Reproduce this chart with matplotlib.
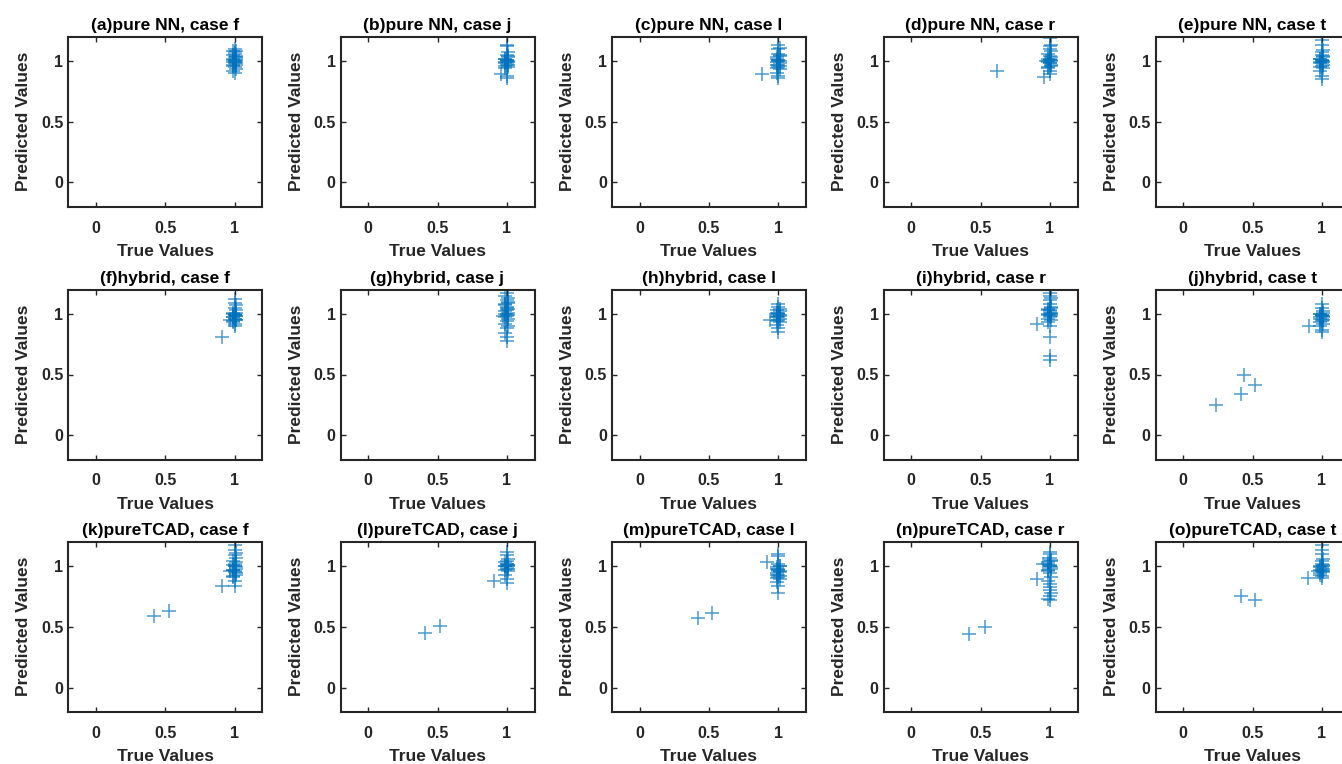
import matplotlib
matplotlib.use("Agg")
import matplotlib.pyplot as plt

#**************** Data ****************

titles = ["(a)pure NN, case f", "(b)pure NN, case j", "(c)pure NN, case l",
          "(d)pure NN, case r", "(e)pure NN, case t",
          "(f)hybrid, case f", "(g)hybrid, case j", "(h)hybrid, case l",
          "(i)hybrid, case r", "(j)hybrid, case t",
          "(k)pureTCAD, case f", "(l)pureTCAD, case j", "(m)pureTCAD, case l",
          "(n)pureTCAD, case r", "(o)pureTCAD, case t"]

a_x = [1.00, 0.99, 1.01, 1.00, 0.99, 1.01, 1.00, 1.00, 0.99, 1.01, 1.00, 1.01, 0.99, 1.00, 1.00, 1.01, 0.99, 1.00,
       0.99, 1.01, 1.00, 0.99, 1.01, 1.00, 0.99, 1.01]
a_y = [0.90, 0.92, 0.93, 0.95, 0.97, 0.98, 0.99, 1.00, 1.01, 1.02, 1.03, 1.04, 1.05, 1.06, 1.07, 1.08, 1.08, 1.10,
       0.96, 0.97, 0.98, 0.99, 1.00, 1.01, 1.02, 1.03]

b_x = [0.96, 1.00, 1.00, 0.99, 1.01, 1.00, 0.99, 1.01, 1.00, 1.00, 0.99, 1.01, 1.00, 1.01, 1.00, 1.00,
       0.99, 1.01, 1.00, 0.99, 1.01, 1.00, 0.99, 1.01]
b_y = [0.89, 0.86, 0.88, 0.94, 0.95, 0.97, 0.98, 0.99, 1.00, 1.01, 1.02, 1.03, 1.05, 1.07, 1.12, 1.13,
       0.96, 0.97, 0.98, 0.99, 1.00, 1.01, 1.02, 1.04]

c_x = [0.88, 1.00, 1.00, 0.99, 1.01, 1.00, 0.99, 1.01, 1.00, 1.00, 0.99, 1.01, 1.00, 1.00, 1.01, 1.00,
       0.99, 1.01, 1.00, 0.99, 1.01, 1.00, 0.99, 1.01]
c_y = [0.89, 0.86, 0.88, 0.90, 0.93, 0.95, 0.97, 0.98, 1.00, 1.01, 1.02, 1.04, 1.06, 1.10, 1.11, 1.13,
       0.94, 0.96, 0.97, 0.99, 1.00, 1.01, 1.03, 1.05]

d_x = [0.62, 0.96, 0.97, 1.00, 1.00, 0.99, 1.01, 1.00, 0.99, 1.01, 1.00, 1.00, 0.99, 1.01, 1.00, 1.00, 1.01, 1.00,
       0.99, 1.01, 1.00, 0.99, 1.01, 1.00, 0.99, 1.01]
d_y = [0.92, 0.87, 1.00, 0.89, 0.92, 0.95, 0.97, 0.98, 1.00, 1.01, 1.02, 1.04, 1.06, 1.08, 1.10, 1.12, 1.13, 1.19,
       0.94, 0.96, 0.98, 0.99, 1.00, 1.01, 1.02, 1.03]

e_x = [1.00, 1.00, 0.99, 1.01, 1.00, 0.99, 1.01, 1.00, 1.00, 0.99, 1.01, 1.00, 1.00, 1.01, 1.00, 1.00,
       0.99, 1.01, 1.00, 0.99, 1.01, 1.00, 0.99, 1.01]
e_y = [0.85, 0.88, 0.92, 0.94, 0.96, 0.98, 0.99, 1.00, 1.01, 1.02, 1.03, 1.05, 1.07, 1.09, 1.13, 1.17,
       0.95, 0.97, 0.98, 0.99, 1.00, 1.01, 1.02, 1.04]

f_x = [0.91, 0.97, 1.00, 1.00, 0.99, 1.01, 1.00, 0.99, 1.01, 1.00, 1.00, 0.99, 1.01, 1.00, 1.01, 1.00, 1.00,
       0.99, 1.01, 1.00, 0.99, 1.01, 1.00, 0.99, 1.01]
f_y = [0.81, 0.95, 0.90, 0.92, 0.93, 0.95, 0.96, 0.97, 0.98, 0.99, 1.00, 1.01, 1.03, 1.05, 1.07, 1.09, 1.12,
       0.94, 0.95, 0.96, 0.97, 0.98, 0.99, 1.00, 1.01]

g_x = [0.97, 1.00, 1.00, 0.99, 1.00, 1.01, 0.99, 1.00, 1.01, 1.00, 0.99, 1.01, 1.00, 1.00, 0.99, 1.01, 1.00, 1.01, 0.99, 1.00, 1.00,
       0.99, 1.01, 1.00, 0.99, 1.01, 1.00, 0.99, 1.01]
g_y = [0.98, 0.78, 0.81, 0.84, 0.88, 0.90, 0.92, 0.94, 0.96, 0.98, 1.00, 1.01, 1.03, 1.05, 1.07, 1.09, 1.11, 1.13, 1.15, 1.17, 1.20,
       0.97, 0.99, 1.00, 1.02, 1.04, 1.06, 1.08, 1.10]

h_x = [0.94, 1.00, 1.00, 0.99, 1.01, 1.00, 0.99, 1.01, 1.00, 1.00, 0.99, 1.01, 1.00, 1.00,
       0.99, 1.01, 1.00, 0.99, 1.01, 1.00, 0.99, 1.01]
h_y = [0.95, 0.85, 0.88, 0.91, 0.93, 0.95, 0.97, 0.98, 1.00, 1.01, 1.03, 1.04, 1.06, 1.08,
       0.94, 0.96, 0.97, 0.98, 0.99, 1.00, 1.01, 1.02]

i_x = [0.91, 1.00, 1.00, 1.00, 1.00, 0.99, 1.01, 1.00, 0.99, 1.01, 1.00, 1.00, 0.99, 1.01, 1.00, 1.00, 1.01, 1.00, 1.00,
       0.99, 1.01, 1.00, 0.99, 1.01, 1.00, 0.99, 1.01]
i_y = [0.92, 0.62, 0.65, 0.81, 0.90, 0.93, 0.95, 0.97, 0.99, 1.00, 1.01, 1.03, 1.04, 1.06, 1.08, 1.11, 1.13, 1.15, 1.17,
       0.96, 0.98, 0.99, 1.00, 1.01, 1.02, 1.03, 1.05]

j_x = [0.24, 0.42, 0.44, 0.52, 0.91, 1.00, 1.00, 0.99, 1.01, 1.00, 0.99, 1.01, 1.00, 1.00, 0.99, 1.01, 1.00, 1.00,
       0.99, 1.01, 1.00, 0.99, 1.01, 1.00, 0.99, 1.01]
j_y = [0.25, 0.34, 0.50, 0.41, 0.90, 0.85, 0.87, 0.90, 0.92, 0.94, 0.96, 0.97, 0.98, 0.99, 1.00, 1.02, 1.05, 1.08,
       0.93, 0.95, 0.96, 0.97, 0.98, 0.99, 1.00, 1.01]

k_x = [0.42, 0.53, 0.91, 0.97, 1.00, 1.00, 0.99, 1.01, 1.00, 0.99, 1.01, 1.00, 1.00, 0.99, 1.01, 1.00, 1.01, 1.00, 1.00,
       0.99, 1.01, 1.00, 0.99, 1.01, 1.00, 0.99, 1.01]
k_y = [0.59, 0.63, 0.84, 0.96, 0.84, 0.88, 0.91, 0.93, 0.95, 0.97, 0.98, 1.00, 1.02, 1.04, 1.07, 1.09, 1.11, 1.13, 1.17,
       0.92, 0.94, 0.96, 0.97, 0.99, 1.00, 1.01, 1.03]

l_x = [0.41, 0.52, 0.91, 1.00, 1.00, 0.99, 1.01, 1.00, 0.99, 1.01, 1.00, 1.00, 1.01, 1.00, 1.00,
       0.99, 1.01, 1.00, 0.99, 1.01, 1.00, 0.99, 1.01]
l_y = [0.45, 0.51, 0.88, 0.86, 0.89, 0.93, 0.96, 0.98, 1.00, 1.01, 1.02, 1.04, 1.06, 1.09, 1.12,
       0.97, 0.98, 0.99, 1.00, 1.01, 1.02, 1.03, 1.00]

m_x = [0.42, 0.52, 0.92, 1.00, 1.00, 0.99, 1.01, 1.00, 0.99, 1.01, 1.00, 1.00, 0.99, 1.01, 1.00, 1.00, 1.00,
       0.99, 1.01, 1.00, 0.99, 1.01, 1.00, 0.99, 1.01]
m_y = [0.57, 0.61, 1.03, 0.78, 0.84, 0.87, 0.89, 0.91, 0.93, 0.95, 0.96, 0.98, 0.99, 1.00, 1.02, 1.08, 1.10,
       0.90, 0.92, 0.93, 0.94, 0.96, 0.97, 0.98, 1.00]

n_x = [0.42, 0.53, 0.91, 0.95, 1.00, 1.00, 1.00, 1.00, 0.99, 1.01, 1.00, 0.99, 1.01, 1.00, 1.00, 0.99, 1.01, 1.00, 1.00, 1.00,
       0.99, 1.01, 1.00, 0.99, 1.01, 1.00, 0.99, 1.01]
n_y = [0.44, 0.50, 0.89, 1.02, 0.72, 0.75, 0.80, 0.85, 0.88, 0.91, 0.94, 0.96, 0.98, 1.00, 1.01, 1.03, 1.05, 1.07, 1.10, 1.12,
       0.73, 0.78, 0.83, 0.97, 0.99, 1.00, 1.02, 1.04]

o_x = [0.42, 0.52, 0.90, 0.97, 1.00, 1.00, 0.99, 1.01, 1.00, 0.99, 1.01, 1.00, 1.00, 1.01, 1.00, 1.00, 1.00,
       0.99, 1.01, 1.00, 0.99, 1.01, 1.00, 0.99, 1.01]
o_y = [0.75, 0.72, 0.90, 0.96, 0.90, 0.92, 0.94, 0.96, 0.98, 0.99, 1.00, 1.02, 1.04, 1.06, 1.10, 1.13, 1.17,
       0.93, 0.95, 0.96, 0.97, 0.98, 0.99, 1.00, 1.01]

xs = [a_x, b_x, c_x, d_x, e_x, f_x, g_x, h_x, i_x, j_x, k_x, l_x, m_x, n_x, o_x]
ys = [a_y, b_y, c_y, d_y, e_y, f_y, g_y, h_y, i_y, j_y, k_y, l_y, m_y, n_y, o_y]

#**************** Layout settings ****************************

W, H = 1342, 764
colLeft = [68.3, 340.5, 612.0, 883.5, 1155.5]   # px, left edge of each column
rowTop = [36.7, 289.5, 541.8]                   # px, top edge of each row
axW, axH = 194, 170

blue = "#0072BD"
dark = "#262626"

plt.rcParams['font.family'] = ['Liberation Sans', 'DejaVu Sans']
plt.rcParams['font.weight'] = 'bold'

fig = plt.figure(figsize=(W / 100, H / 100), dpi=100)

for idx in range(15):
    r, c = divmod(idx, 5)
    left = colLeft[c] / W
    bottom = 1 - (rowTop[r] + axH) / H
    ax = fig.add_axes([left, bottom, axW / W, axH / H])

    ax.scatter(xs[idx], ys[idx], marker='+', s=100, color=blue, alpha=0.7, linewidths=1.1)

    ax.set_xlim(-0.2, 1.2)
    ax.set_ylim(-0.2, 1.2)
    ax.set_xticks([0, 0.5, 1])
    ax.set_yticks([0, 0.5, 1])
    ax.set_xticklabels(["0", "0.5", "1"])
    ax.set_yticklabels(["0", "0.5", "1"])
    ax.tick_params(axis='x', pad=10)
    ax.tick_params(direction='in', length=3.5, width=1.0, top=True, right=True,
                   colors=dark, labelsize=11.5)
    for sp in ax.spines.values():
        sp.set_linewidth(1.5)
        sp.set_color(dark)

    ax.set_title(titles[idx], fontsize=12.5, fontweight='bold', color='black', pad=5)
    ax.set_xlabel("True Values", fontsize=12.5, fontweight='bold', color=dark, labelpad=6)
    ax.set_ylabel("Predicted Values", fontsize=12.5, fontweight='bold', color=dark, labelpad=7)

fig.savefig("out.png", dpi=100)
